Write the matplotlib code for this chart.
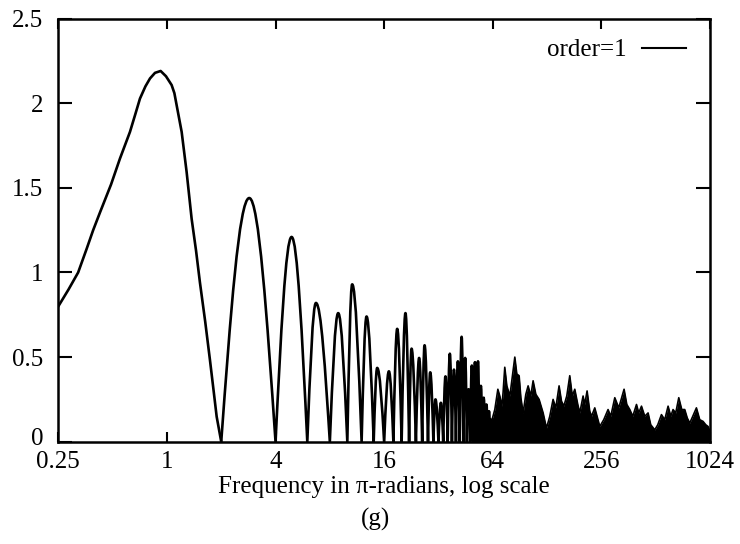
import numpy as np
import matplotlib
matplotlib.use("Agg")
import matplotlib.pyplot as plt
from matplotlib.path import Path
from matplotlib.patches import PathPatch
from matplotlib.lines import Line2D
from matplotlib.transforms import ScaledTranslation

plt.rcParams['font.family'] = ['Liberation Serif', 'DejaVu Serif']

# ---- data ----
# main lobe (0.25 .. 2), points along the curve
main_x = [0.25, 0.285, 0.322, 0.359, 0.39, 0.426, 0.49, 0.549, 0.624, 0.67, 0.709,
          0.76, 0.806, 0.859, 0.923, 0.988, 1.062, 1.10, 1.132, 1.207, 1.286, 1.371,
          1.45, 1.524, 1.63, 1.731, 1.82, 1.887, 2.0]
main_y = [0.80, 0.90, 1.00, 1.14, 1.25, 1.356, 1.52, 1.673, 1.831, 1.94, 2.028,
          2.10, 2.147, 2.18, 2.191, 2.16, 2.108, 2.06, 1.989, 1.831, 1.594, 1.317,
          1.13, 0.941, 0.71, 0.485, 0.29, 0.148, 0.0]

# side lobes: left zero, right zero, peak position, peak height
lobe_left = [2, 4, 6, 8, 10, 12, 14, 16, 18, 20, 22, 24, 26, 28, 30, 32, 34, 36,
             38, 40, 42, 44, 46, 48, 50, 52, 54, 56, 58, 60, 62]
lobe_right = [4, 6, 8, 10, 12, 14, 16, 18, 20, 22, 24, 26, 28, 30, 32, 34, 36, 38,
              40, 42, 44, 46, 48, 50, 52, 54, 56, 58, 60, 62, 64]
lobe_peak_x = [2.86, 4.91, 6.70, 8.90, 10.64, 12.78, 14.64, 17.0, 18.9, 21.0, 22.7,
               25.0, 26.8, 28.8, 30.8, 33.0, 35.0, 37.0, 39.0, 41.0, 43.0, 45.0,
               47.0, 49.0, 51.0, 53.0, 55.0, 57.0, 59.0, 61.0, 63.0]
lobe_peak_y = [1.44, 1.21, 0.82, 0.76, 0.93, 0.74, 0.436, 0.416, 0.667, 0.76, 0.55,
               0.495, 0.57, 0.41, 0.25, 0.23, 0.386, 0.52, 0.426, 0.475, 0.62, 0.495,
               0.31, 0.45, 0.47, 0.475, 0.33, 0.26, 0.22, 0.18, 0.13]

# envelope (spike tops and dips) of the densely packed lobes (64 .. 1024)
env_x = [63.4, 65.7, 68.3, 70.0, 71.9, 73.0, 74.6, 76.6, 79.6, 81.6, 84.8, 87.0,
         89.6, 91.6, 94.3, 97.6, 100.5, 104.0, 107.1, 110.9, 115.6, 121.7, 127.0,
         132.5, 138.2, 143.1, 149.2, 153.8, 158.5, 164.6, 171.0, 176.6, 182.3, 189.4,
         194.3, 202.7, 207.0, 213.3, 220.7, 225.7, 235.3, 250.8, 263.9, 278.8, 288.6,
         303.8, 319.6, 342.0, 354.1, 367.9, 382.2, 400.7, 412.5, 427.1, 445.5, 464.6,
         480.7, 506.0, 525.7, 551.0, 574.8, 599.8, 620.9, 639.0, 661.3, 687.4, 714.1,
         741.8, 766.0, 790.9, 821.7, 861.0, 898.4, 937.0, 970.0, 998.8, 1024.0]
env_y = [0.13, 0.19, 0.31, 0.27, 0.21, 0.29, 0.44, 0.33, 0.27, 0.36, 0.50, 0.40,
         0.39, 0.26, 0.17, 0.28, 0.33, 0.27, 0.36, 0.28, 0.25, 0.17, 0.08,
         0.15, 0.25, 0.20, 0.33, 0.24, 0.21, 0.27, 0.39, 0.27, 0.31, 0.22,
         0.17, 0.27, 0.22, 0.30, 0.18, 0.15, 0.20, 0.09, 0.13, 0.19, 0.15,
         0.26, 0.20, 0.31, 0.22, 0.19, 0.15, 0.22, 0.17, 0.21, 0.15, 0.17,
         0.10, 0.07, 0.10, 0.16, 0.13, 0.21, 0.15, 0.19, 0.17, 0.26, 0.19,
         0.19, 0.14, 0.11, 0.15, 0.20, 0.13, 0.12, 0.10, 0.09, 0.06]

xticks = [0.25, 1, 4, 16, 64, 256, 1024]
xtick_labels = ['0.25', '1', '4', '16', '64', '256', '1024']
yticks = [0, 0.5, 1, 1.5, 2, 2.5]
ytick_labels = ['0', '0.5', '1', '1.5', '2', '2.5']

FS = 18

# ---- figure ----
fig = plt.figure(figsize=(7.4, 5.44), dpi=100)
ax = fig.add_axes([58.3 / 740, 1 - 441.7 / 544, (710 - 58.3) / 740, (441.7 - 18.7) / 544])
ax.set_xscale('log', base=2)
ax.set_xlim(0.25, 1024)
ax.set_ylim(0, 2.5)

LW = 1.9
ax.plot(main_x, main_y, color='black', lw=LW, solid_joinstyle='round')

# side lobes drawn as smooth arches (quarter-sine Bezier shape in display space)
verts = []
codes = []
for a, b, p, h in zip(lobe_left, lobe_right, lobe_peak_x, lobe_peak_y):
    ua, ub, up = np.log2(a), np.log2(b), np.log2(p)
    w1, w2 = up - ua, ub - up
    verts.append((a, 0.0))
    codes.append(Path.MOVETO if not codes else Path.LINETO)
    verts += [(2 ** (ua + 0.3261 * w1), 0.5123 * h), (2 ** (ua + 0.6381 * w1), h), (p, h)]
    codes += [Path.CURVE4] * 3
    verts += [(2 ** (ub - 0.6381 * w2), h), (2 ** (ub - 0.3261 * w2), 0.5123 * h), (b, 0.0)]
    codes += [Path.CURVE4] * 3
ax.add_patch(PathPatch(Path(verts, codes), fill=False, edgecolor='black', lw=LW,
                       joinstyle='round'))

ax.fill_between(env_x, 0, env_y, color='black', lw=0)
ax.plot(env_x, env_y, color='black', lw=1.2)

ax.set_xticks(xticks)
ax.set_xticklabels(xtick_labels)
ax.set_yticks(yticks)
ax.set_yticklabels(ytick_labels)
ax.xaxis.set_minor_locator(matplotlib.ticker.NullLocator())
ax.tick_params(axis='both', which='major', direction='in', top=True, right=True,
               labelsize=FS, width=1.5, color='black')
ax.tick_params(axis='x', length=7, pad=7)
ax.tick_params(axis='y', length=10, pad=11)
for s in ax.spines.values():
    s.set_linewidth(1.8)

# nudge the "0" y label up a little so it clears the "0.25" x label
lab0 = ax.get_yticklabels()[0]
lab0.set_transform(lab0.get_transform() + ScaledTranslation(0, 4 / 72, fig.dpi_scale_trans))

ax.set_xlabel('Frequency in \u03c0-radians, log scale', fontsize=FS, labelpad=2)
fig.text(375 / 740, 1 - 519 / 544, '(g)', fontsize=FS, ha='center', va='center')

handle = Line2D([], [], color='black', lw=1.5)
ax.legend([handle], ['order=1'], loc='upper right', markerfirst=False, frameon=False,
          fontsize=FS, handlelength=1.76, handletextpad=0.6, borderpad=0,
          borderaxespad=0, bbox_to_anchor=((686 - 58.3) / 651.7, (441.7 - 39) / 423.0))

fig.savefig('out.png', dpi=100)
